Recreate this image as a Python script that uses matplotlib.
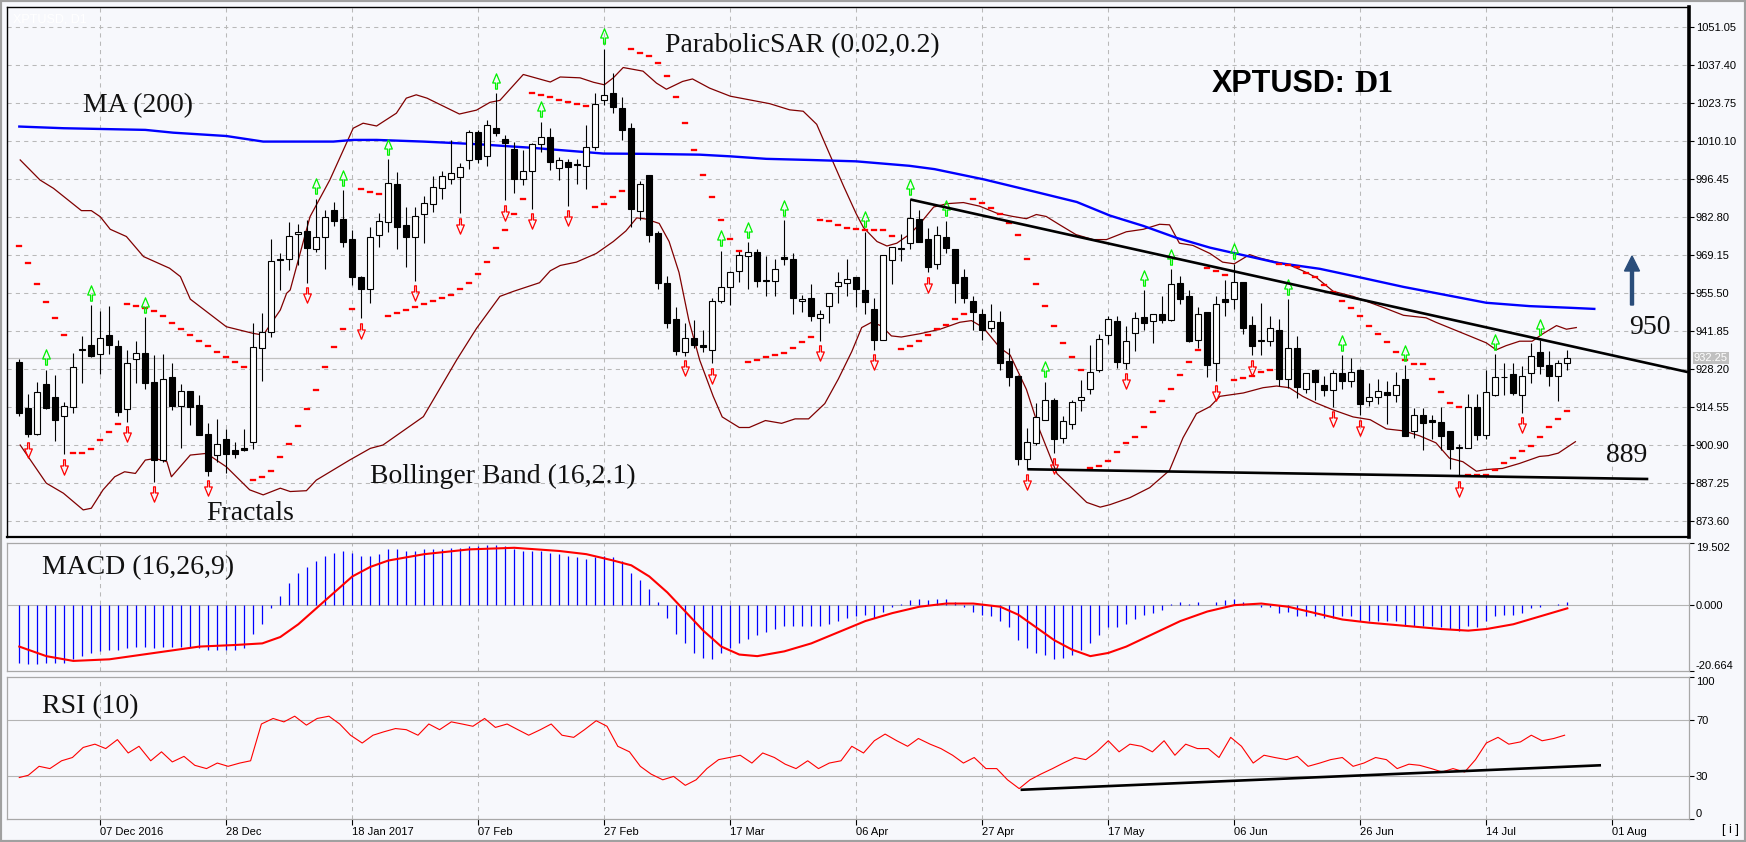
import matplotlib
matplotlib.use("Agg")
import matplotlib.pyplot as plt
import numpy as np
from matplotlib.path import Path
from matplotlib.transforms import ScaledTranslation
import matplotlib.patches as mpatches

plt.rcParams['font.family'] = ['Liberation Sans', 'DejaVu Sans']

# ---------------- data ----------------
opens = [930.7, 914.3, 905.0, 922.8, 918.3, 911.3, 914.8, 935.5, 936.8, 933.6,
940.4, 936.6, 913.8, 931.9, 934.0, 923.5, 895.6, 925.3, 914.9, 920.3,
915.3, 904.8, 897.4, 903.1, 899.1, 899.8, 902.0, 935.7, 941.7, 967.8,
967.8, 976.7, 978.0, 971.4, 975.6, 985.3, 982.2, 975.0, 961.5, 956.9,
976.3, 981.0, 994.6, 979.9, 975.6, 983.9, 987.6, 993.2, 996.4, 997.2,
1003.3, 1013.3, 1004.8, 1014.9, 1011.0, 1007.5, 996.6, 999.5, 1009.2, 1011.7,
1000.6, 1002.6, 1001.8, 1001.3, 1008.1, 1024.8, 1027.6, 1022.2, 1014.7, 984.9,
997.9, 977.0, 959.3, 946.1, 934.3, 939.5, 936.8, 935.2, 952.9, 957.7,
963.6, 969.0, 970.4, 960.1, 959.9, 968.5, 968.0, 952.9, 953.7, 946.6,
951.0, 958.0, 959.3, 961.3, 956.6, 949.8, 938.9, 967.6, 971.5, 973.4,
982.1, 974.9, 966.0, 975.9, 971.4, 961.3, 952.9, 947.9, 942.9, 945.1,
931.1, 925.9, 896.0, 901.8, 909.9, 917.3, 903.4, 908.6, 917.0, 921.0,
928.0, 940.4, 945.7, 930.3, 941.4, 946.9, 945.7, 948.2, 945.9, 959.3,
954.7, 938.9, 948.7, 930.3, 953.6, 953.4, 959.7, 944.2, 938.3, 938.5,
942.5, 924.9, 935.8, 921.2, 927.8, 922.5, 920.6, 926.8, 924.1, 928.0,
916.7, 918.1, 920.0, 919.1, 924.7, 905.9, 911.7, 910.0, 909.2, 906.1,
900.1, 900.0, 914.8, 904.6, 918.8, 925.3, 926.5, 918.8, 926.9, 934.3,
929.6, 925.9, 930.3]
highs = [931.8, 919.3, 923.5, 928.0, 926.2, 916.5, 934.2, 940.2, 951.3, 949.2,
951.0, 938.6, 935.1, 938.3, 946.9, 933.3, 933.7, 930.4, 922.9, 920.3,
919.0, 908.8, 910.2, 906.8, 902.2, 906.8, 945.0, 948.3, 975.0, 969.9,
981.2, 980.4, 981.8, 989.4, 985.4, 988.4, 992.6, 978.3, 961.8, 979.2,
984.5, 1003.6, 999.2, 986.4, 986.6, 990.6, 997.8, 999.4, 1010.6, 1002.4,
1014.2, 1014.2, 1017.8, 1027.3, 1012.5, 1009.8, 1007.1, 1009.4, 1017.2, 1014.9,
1004.4, 1003.6, 1003.6, 1016.0, 1027.3, 1043.4, 1034.5, 1026.1, 1016.6, 995.8,
997.9, 977.8, 961.8, 950.7, 944.7, 945.9, 942.2, 953.7, 970.7, 963.6,
970.7, 973.9, 971.4, 968.9, 968.0, 981.8, 969.8, 955.0, 958.9, 949.4,
955.6, 963.0, 967.7, 961.3, 977.6, 953.7, 969.4, 972.1, 976.9, 989.2,
985.3, 979.1, 979.5, 981.5, 971.4, 964.2, 954.6, 949.7, 951.5, 949.1,
935.8, 926.2, 907.0, 916.1, 923.7, 917.9, 911.3, 917.3, 924.3, 937.0,
941.0, 947.2, 947.2, 943.6, 948.8, 956.6, 948.2, 954.4, 964.2, 961.8,
956.8, 950.7, 948.7, 954.6, 960.3, 966.1, 959.7, 947.5, 951.9, 947.2,
946.3, 953.4, 940.1, 926.8, 928.4, 925.9, 928.0, 933.3, 932.4, 928.4,
923.4, 924.9, 924.1, 927.4, 929.6, 914.4, 914.4, 911.7, 914.5, 906.1,
901.2, 919.4, 919.4, 927.8, 933.6, 930.3, 930.3, 929.4, 937.7, 938.9,
934.9, 931.5, 935.2]
lows = [911.6, 903.8, 904.6, 914.0, 902.6, 897.7, 912.6, 923.4, 932.8, 926.5,
933.7, 911.6, 909.4, 923.2, 921.0, 887.8, 895.0, 913.6, 899.8, 908.2,
904.5, 889.9, 895.0, 890.8, 896.2, 899.0, 899.5, 924.1, 939.9, 956.7,
963.9, 965.7, 959.3, 970.2, 964.1, 979.5, 972.3, 958.5, 946.5, 951.9,
972.3, 977.6, 971.3, 965.1, 960.1, 973.4, 984.6, 989.4, 994.6, 984.2,
1000.0, 1002.2, 1001.4, 1011.9, 989.0, 991.4, 994.3, 985.9, 1006.3, 999.7,
996.2, 986.9, 994.6, 993.0, 1006.9, 1023.0, 1020.1, 1010.6, 979.3, 981.9,
973.8, 957.1, 943.2, 933.3, 933.0, 935.8, 934.3, 930.3, 952.1, 951.3,
959.5, 957.1, 957.8, 954.6, 954.4, 965.7, 948.2, 948.8, 945.7, 938.5,
944.8, 952.1, 954.4, 950.7, 947.9, 935.2, 938.9, 958.9, 967.1, 971.3,
973.9, 963.0, 964.2, 969.8, 951.9, 951.9, 942.3, 938.9, 941.6, 928.0,
922.2, 893.8, 892.3, 900.9, 909.9, 898.1, 901.8, 906.8, 913.3, 919.5,
927.2, 937.3, 928.6, 928.4, 934.8, 942.2, 937.6, 944.8, 945.7, 951.6,
937.9, 935.8, 925.3, 924.1, 947.2, 950.0, 941.0, 933.3, 933.3, 936.7,
922.2, 921.6, 917.9, 919.7, 917.3, 918.5, 914.8, 921.0, 922.0, 911.7,
915.1, 915.8, 908.6, 916.3, 904.3, 903.7, 899.3, 903.3, 899.3, 892.5,
889.8, 900.0, 902.7, 903.1, 918.5, 919.1, 918.8, 912.6, 923.2, 926.5,
922.2, 916.7, 928.1]
closes = [912.6, 905.0, 919.9, 914.4, 910.1, 914.9, 928.9, 935.0, 933.0, 939.3,
937.1, 913.0, 930.4, 934.0, 923.4, 895.6, 924.6, 915.1, 920.3, 914.8,
904.5, 891.8, 901.5, 897.8, 897.9, 899.3, 936.1, 941.7, 967.1, 967.5,
976.1, 977.4, 971.7, 975.9, 982.8, 981.6, 973.8, 961.2, 956.9, 975.9,
981.4, 995.0, 979.4, 975.9, 983.4, 987.8, 993.6, 997.8, 998.8, 1001.0,
1013.3, 1003.9, 1015.8, 1013.1, 1009.4, 996.4, 999.5, 1009.0, 1011.5, 1002.8,
1003.4, 1001.0, 1001.5, 1008.1, 1023.6, 1026.9, 1022.4, 1014.1, 985.9, 994.9,
976.3, 959.3, 944.8, 934.6, 939.3, 936.8, 936.2, 952.9, 957.7, 963.3,
969.2, 970.4, 959.9, 959.9, 964.4, 967.7, 953.7, 953.6, 947.2, 947.9,
955.6, 959.7, 960.5, 957.1, 952.5, 938.9, 969.2, 972.1, 971.8, 982.4,
973.9, 964.8, 976.3, 971.9, 959.1, 953.7, 948.8, 942.3, 945.7, 930.3,
925.5, 896.0, 902.2, 911.1, 917.3, 903.1, 909.6, 916.3, 918.3, 927.4,
939.2, 946.1, 930.9, 938.5, 946.7, 945.0, 948.2, 946.0, 958.9, 953.5,
938.3, 948.2, 929.9, 951.8, 952.4, 959.7, 943.2, 936.7, 938.9, 943.2,
924.7, 936.0, 922.0, 926.8, 923.5, 920.6, 926.8, 924.1, 927.4, 915.8,
918.1, 920.4, 919.1, 922.5, 904.3, 911.7, 908.9, 909.2, 904.3, 899.6,
900.4, 914.8, 904.6, 920.0, 925.3, 925.4, 919.7, 925.9, 933.1, 929.4,
925.9, 930.3, 932.25]

sar = [972.4, 966.3, 958.7, 952.3, 946.5, 940.5, 898.0, 898.0, 899.5, 902.8,
905.6, 908.6, 951.7, 951.0, 950.1, 949.0, 947.4, 944.7, 942.6, 940.5,
938.4, 936.6, 934.3, 932.7, 930.8, 928.9, 888.4, 889.4, 891.6, 896.6,
901.3, 907.9, 913.9, 920.8, 928.9, 936.1, 942.6, 949.8, 992.9, 991.8,
991.1, 947.4, 948.3, 949.5, 950.5, 951.5, 952.7, 953.7, 954.9, 956.9,
959.1, 962.3, 966.6, 971.7, 978.4, 984.1, 989.5, 1027.6, 1026.9, 1026.1,
1025.1, 1024.3, 1023.6, 1022.8, 986.5, 987.7, 990.0, 992.1, 1043.4, 1041.9,
1040.9, 1038.1, 1033.5, 1026.1, 1016.8, 1006.9, 997.9, 990.2, 982.0, 975.0,
970.8, 930.9, 931.5, 932.6, 933.3, 934.0, 935.8, 937.9, 939.8, 982.0,
981.3, 980.0, 979.1, 978.7, 978.1, 978.1, 978.1, 976.2, 935.6, 936.4,
938.5, 940.4, 942.6, 944.2, 946.1, 947.9, 989.2, 988.1, 986.3, 984.0,
980.9, 976.3, 968.0, 959.0, 951.1, 943.9, 937.8, 932.5, 927.8, 892.8,
893.4, 895.4, 898.4, 901.6, 903.9, 907.6, 912.7, 916.9, 921.0, 926.3,
930.9, 935.0, 964.5, 963.6, 962.2, 924.4, 925.1, 925.9, 927.2, 927.8,
966.1, 965.7, 964.9, 962.8, 961.2, 958.6, 956.1, 952.9, 950.1, 947.2,
943.6, 940.8, 937.9, 934.3, 931.5, 930.0, 930.0, 924.7, 920.0, 916.1,
914.8, 890.3, 890.3, 890.3, 891.9, 894.4, 896.5, 898.7, 900.8, 903.9,
907.4, 910.5, 913.3]

fractal_up = [3, 8, 14, 33, 36, 41, 53, 58, 65, 78, 81, 85, 94, 99, 103, 114,
              125, 128, 135, 141, 147, 154, 164, 169]
fractal_dn = [1, 5, 12, 15, 21, 32, 38, 44, 49, 54, 57, 61, 74, 77, 89, 95, 101,
              112, 115, 123, 133, 137, 146, 149, 160, 167]

ma_x = [0, 4.9, 14, 17.1, 23, 27.1, 34.9, 37.1, 39.7, 44.9, 47.5, 51.2, 56.8, 64.9,
        69.3, 75.6, 79, 83, 87.8, 93, 98.9, 101.7, 107.2, 112.7, 117.5, 121.2, 124.9,
        128.6, 132.3, 136, 139.7, 144.5, 149, 153.8, 159.3, 163, 167.8, 172.3, 175]
ma_v = [1015.4, 1014.8, 1014.2, 1013.2, 1012.0, 1010.0, 1010.0, 1010.6, 1010.6, 1010.0,
        1009.6, 1009.0, 1007.8, 1005.7, 1005.6, 1005.3, 1004.7, 1003.8, 1003.4, 1002.9,
        1001.3, 1000.1, 996.4, 992.1, 988.3, 983.4, 979.7, 975.4, 971.9, 969.2, 966.5,
        964.3, 961.2, 957.8, 954.4, 952.1, 950.9, 950.3, 949.9]

bb_up_x = [0.1, 2.3, 3.8, 6.9, 8.0, 9.0, 10.1, 11.9, 13.8, 16.7, 17.9, 19.0, 23.0, 26.0,
           27.1, 29.0, 29.7, 30.1, 32.3, 34.5, 37.1, 38.2, 39.7, 41.9, 43.0, 44.1, 45.3,
           48.9, 50.8, 52.3, 53.4, 56.0, 59.0, 60.1, 62.3, 63.8, 65.0, 66.0, 67.1, 69.3,
           70.8, 71.9, 73.7, 74.8, 76.7, 79.0, 80.8, 83.4, 85.6, 87.1, 88.6, 90.1, 91.6,
           93.0, 93.8, 95.3, 96.4, 97.5, 99.0, 100.1, 101.6, 103.1, 104.9, 106.7, 108.6,
           110.4, 111.9, 113.0, 114.1, 115.6, 117.4, 119.3, 120.8, 123.0, 124.9, 126.7,
           127.8, 128.9, 130.4, 132.3, 133.7, 135.0, 136.7, 137.8, 139.7, 141.1, 142.6,
           144.1, 146.0, 148.2, 151.9, 153.8, 156.3, 157.4, 159.3, 161.2, 163.0, 164.1,
           165.2, 166.7, 168.1, 169.3, 170.8, 171.9, 173.0]
bb_up_v = [1003.4, 996.2, 993.2, 985.2, 985.2, 983.0, 978.5, 975.9, 968.7, 964.5, 961.5,
           953.4, 943.5, 941.1, 940.5, 949.5, 955.5, 956.7, 983.0, 996.2, 1014.8, 1016.6,
           1015.6, 1020.2, 1025.6, 1026.8, 1025.6, 1019.9, 1021.3, 1024.1, 1024.8, 1034.1,
           1031.4, 1033.2, 1032.9, 1031.3, 1030.4, 1032.9, 1036.6, 1035.3, 1031.0, 1028.8,
           1031.6, 1032.5, 1029.2, 1026.3, 1025.2, 1023.6, 1021.4, 1020.9, 1016.2, 1005.0,
           993.9, 984.0, 979.1, 974.1, 972.5, 973.5, 976.9, 980.6, 986.5, 987.7, 988.1,
           986.8, 984.3, 983.1, 982.3, 983.8, 983.1, 980.1, 976.6, 974.8, 974.8, 977.6,
           978.5, 980.3, 980.1, 973.5, 972.7, 969.8, 966.7, 966.1, 969.4, 968.2, 966.7,
           965.7, 963.6, 961.2, 956.2, 954.4, 950.0, 947.6, 946.7, 945.1, 942.6, 940.1,
           937.7, 935.2, 936.7, 938.3, 938.3, 941.0, 943.9, 942.6, 943.2]
bb_lo_x = [0.1, 3.0, 4.9, 7.1, 8.0, 9.3, 10.6, 11.7, 12.9, 14.0, 15.1, 16.4, 16.9, 19.0,
           20.8, 23.0, 25.6, 27.1, 29.0, 30.1, 31.9, 33.0, 36.7, 39.0, 40.4, 44.9, 48.6,
           50.8, 53.4, 54.9, 57.8, 59.0, 60.1, 61.9, 64.1, 66.0, 67.4, 68.6, 69.6, 71.1,
           72.2, 73.3, 74.4, 75.6, 77.1, 78.1, 80.0, 81.1, 82.9, 84.7, 86.2, 87.7, 89.5,
           91.0, 92.5, 93.6, 94.7, 95.8, 96.9, 98.0, 100.1, 102.3, 104.5, 105.8, 107.1,
           109.0, 110.1, 111.9, 113.4, 115.3, 117.1, 118.6, 120.1, 121.2, 123.4, 125.6,
           127.8, 129.3, 130.8, 132.3, 133.4, 136.0, 138.2, 139.7, 141.1, 142.6, 144.1,
           146.0, 148.2, 150.1, 151.9, 153.8, 155.6, 157.4, 158.9, 160.4, 161.9, 163.0,
           164.8, 166.7, 168.9, 169.9, 171.0, 172.9]
bb_lo_v = [901.0, 887.3, 883.7, 877.7, 878.3, 884.9, 889.6, 891.4, 890.8, 895.6, 896.2,
           895.0, 889.6, 897.4, 898.0, 893.2, 884.9, 883.1, 885.5, 884.3, 884.6, 888.4,
           895.6, 899.8, 901.0, 911.2, 931.6, 942.9, 954.4, 956.2, 959.3, 963.6, 965.5,
           966.7, 969.8, 974.1, 977.9, 982.6, 982.2, 980.6, 974.1, 963.0, 945.7, 931.5,
           918.5, 911.1, 907.3, 907.3, 909.8, 908.8, 910.4, 910.4, 915.9, 924.7, 934.6,
           943.2, 945.1, 943.8, 940.2, 939.8, 941.0, 942.6, 945.1, 945.7, 943.2, 935.8,
           933.3, 921.0, 906.1, 890.7, 885.1, 880.4, 878.7, 879.6, 882.1, 885.7, 891.9,
           903.6, 912.3, 914.8, 918.5, 919.7, 921.6, 922.2, 921.6, 918.5, 916.1, 913.6,
           911.1, 910.1, 906.8, 906.1, 904.3, 901.8, 896.3, 895.0, 891.6, 892.2, 892.6,
           894.4, 896.9, 897.2, 898.1, 902.2]

macd_hist = [-18, -18.5, -18.5, -18, -18, -18, -17, -16, -15, -14.5,
-14, -14, -13.5, -13, -13, -13.5, -13, -13, -13, -13,
-13.5, -14, -14, -14, -14, -13.5, -9, -6, -1, 3,
7, 10, 12, 14, 15.5, 16.5, 17, 16.5, 15.5, 15.5,
16, 17.5, 17.5, 17, 17, 17.5, 17.5, 17.5, 18, 18,
18.5, 18.5, 19, 19, 18.5, 17.5, 17, 17, 17, 16.5,
16, 15.5, 15, 14.5, 15, 15.5, 15, 14, 10, 8,
5, 1, -4, -9, -12, -15, -16.5, -17, -15, -13.5,
-12, -10.5, -9.5, -8.5, -7.5, -6.5, -6.5, -6.5, -6.5, -6.5,
-6, -5, -4, -3.5, -3, -4, -2, -0.5, 0.5, 1.5,
2, 1.5, 2, 2, 1, -0.5, -2, -3, -3.5, -5,
-7, -11, -13.5, -15, -15.5, -17, -16.5, -15.5, -14, -12,
-9.5, -7, -7, -6, -4.5, -3, -2.5, -1.5, 0.5, 1,
0.5, 1, 0, 1, 1.5, 2, 1, 0, -0.5, -0.5,
-2.5, -2, -3.5, -3.5, -3.5, -4, -4, -3.5, -3.5, -5,
-5, -5, -5, -5, -6.5, -6.5, -6.5, -6.5, -7, -7.5,
-8, -6.5, -7, -5, -3.5, -3, -3, -2.5, -1, -0.5,
0, 0.5, 1]
sig_x = [0, 3, 6, 10, 15, 20, 24, 27, 29, 31, 33, 35, 37, 39, 41, 45, 50, 55, 60, 63,
         66, 68, 70, 72, 74, 76, 78, 80, 82, 85, 88, 91, 94, 97, 100, 103, 106, 109,
         111, 113, 115, 117, 119, 121, 123, 126, 129, 132, 135, 138, 141, 144, 147,
         150, 154, 158, 161, 163, 166, 169, 172]
sig_v = [-13, -16, -17.5, -17, -15, -13, -12.5, -12, -10, -6, -1, 4, 9, 12, 14, 16, 17.5,
         18, 17, 16, 14, 12.5, 9, 4, -2, -8, -13, -15.5, -16, -14.5, -12, -8.5, -5, -2.5,
         -0.5, 0.5, 0.5, -0.5, -3, -7, -11, -14, -16, -15, -13, -9, -5, -2, 0, 0.5, -0.5,
         -2.5, -4.5, -5.5, -6.5, -7.5, -8, -7.5, -6, -3.5, -1]

rsi_x = [0, 1, 2.2, 3.4, 4.7, 5.9, 7.1, 8.4, 9.6, 10.9, 12.1, 13.3, 14.6, 15.8, 17, 18.3,
         19.5, 20.8, 22, 23.2, 24.5, 25.7, 26.9, 28.2, 29.4, 30.6, 31.9, 33.1, 34.4, 35.6,
         36.8, 38.1, 39.3, 40.5, 41.8, 43, 44.3, 45.5, 46.7, 48, 49.2, 50.4, 51.7, 52.9,
         54.2, 55.4, 56.6, 57.9, 59.1, 60.3, 61.6, 62.8, 64.1, 65.3, 66.5, 67.8, 69, 70.2,
         71.5, 72.7, 74, 75.2, 76.4, 77.7, 78.9, 80.1, 81.4, 82.6, 83.9, 85.1, 86.3, 87.6,
         88.8, 90, 91.3, 92.5, 93.8, 95, 96.2, 97.5, 98.7, 99.9, 101.2, 102.4, 103.7,
         104.9, 106.1, 107.4, 108.6, 109.8, 111.1, 112.3, 113.5, 114.8, 116, 117.3, 118.5,
         119.7, 121, 122.2, 123.4, 124.7, 125.9, 127.2, 128.4, 129.6, 130.9, 132.1, 133.3,
         134.6, 135.8, 137.1, 138.3, 139.5, 140.8, 142, 143.2, 144.5, 145.7, 147, 148.2,
         149.4, 150.7, 151.9, 153.1, 154.4, 155.6, 156.9, 158.1, 159.3, 160.6, 161.8, 163,
         164.3, 165.5, 166.8, 168, 169.2, 170.5, 171.7]
rsi_v = [29.2, 30.8, 37.1, 35.5, 41.0, 43.3, 50.4, 52.7, 49.6, 55.9, 46.5, 51.2, 41.0, 47.3,
         40.2, 44.1, 37.8, 35.5, 39.4, 37.1, 39.4, 41.0, 66.9, 70.8, 68.4, 72.4, 66.1, 70.8,
         72.4, 66.9, 59.0, 53.5, 59.0, 61.4, 63.7, 62.9, 59.0, 66.9, 62.9, 68.4, 66.9, 65.3,
         70.8, 64.5, 66.9, 62.9, 59.0, 62.9, 66.9, 59.0, 57.5, 62.9, 69.2, 65.3, 51.2, 47.3,
         37.1, 31.6, 27.6, 30.0, 23.7, 27.6, 35.5, 41.8, 43.3, 44.9, 39.4, 46.5, 43.3, 38.6,
         35.5, 41.0, 35.5, 39.4, 41.0, 51.2, 46.5, 55.1, 59.8, 55.1, 51.2, 56.7, 52.7, 49.6,
         44.9, 39.4, 43.3, 35.5, 35.5, 27.6, 21.4, 27.6, 31.6, 35.5, 39.4, 43.3, 41.8, 47.3,
         55.1, 47.3, 52.7, 51.2, 47.3, 55.1, 44.9, 52.7, 49.6, 49.6, 43.3, 57.5, 51.2, 39.4,
         44.9, 43.3, 41.8, 44.1, 37.1, 39.4, 41.8, 43.3, 37.1, 39.4, 43.3, 41.8, 35.5, 38.6,
         37.8, 35.5, 33.1, 35.5, 33.1, 41.8, 53.5, 57.5, 52.7, 54.3, 59.0, 55.1, 56.7, 59.0]

trend_x = [99, 185.4]
trend_v = [989.2, 927.2]
support_x = [112, 181]
support_v = [892.3, 888.8]
rsi_trend_x = [111.4, 175.6]
rsi_trend_v = [20.6, 37.8]

price_ticks = [1051.05, 1037.40, 1023.75, 1010.10, 996.45, 982.80, 969.15, 955.50,
               941.85, 928.20, 914.55, 900.90, 887.25, 873.60]
date_pos = [9, 23, 37, 51, 65, 79, 93, 107, 121, 135, 149, 163, 177]
date_lbls = ['07 Dec 2016', '28 Dec', '18 Jan 2017', '07 Feb', '27 Feb', '17 Mar',
             '06 Apr', '27 Apr', '17 May', '06 Jun', '26 Jun', '14 Jul', '01 Aug']
last_price = 932.25

# ---------------- figure ----------------
W, H, DPI = 1746, 842, 100
BG = '#f7f8fc'
fig = plt.figure(figsize=(W / DPI, H / DPI), dpi=DPI, facecolor=BG)


def axes_px(l, t, r, b):
    a = fig.add_axes([l / W, 1 - b / H, (r - l) / W, (b - t) / H])
    a.set_facecolor(BG)
    return a


L, R = 7, 1689
ax = axes_px(L, 7, R, 537)
axm = axes_px(L, 543, R, 671)
axr = axes_px(L, 677, R, 819)
XL = ((L - 19.3) / 9, (R - 19.3) / 9)

grid_kw = dict(color='#b9b9b9', lw=0.75, ls=(0, (4, 4)), zorder=0.5)
for a in (ax, axm, axr):
    for xv in date_pos:
        a.axvline(xv, **grid_kw)
for yv in price_ticks:
    ax.axhline(yv, **grid_kw)

# current price line
ax.axhline(last_price, color='#c0c0c0', lw=0.9, zorder=0.6)

# Bollinger + MA
ax.plot(bb_up_x, bb_up_v, color='#800000', lw=0.9, zorder=2)
ax.plot(bb_lo_x, bb_lo_v, color='#800000', lw=0.9, zorder=2)
ax.plot(ma_x, ma_v, color='#0000ff', lw=1.7, zorder=3)

# candles
n = min(len(opens), len(highs), len(lows), len(closes))
xs = np.arange(n)
O = np.array(opens[:n]); Hh = np.array(highs[:n]); Lo = np.array(lows[:n]); C = np.array(closes[:n])
ax.vlines(xs, Lo, Hh, color='black', lw=0.8, zorder=4)
up = C >= O
bot = np.minimum(O, C)
hgt = np.maximum(np.abs(C - O), 0.3)
ax.bar(xs[up], hgt[up], bottom=bot[up], width=0.68, facecolor='white', edgecolor='black',
       linewidth=0.8, zorder=5)
ax.bar(xs[~up], hgt[~up], bottom=bot[~up], width=0.68, facecolor='black', edgecolor='black',
       linewidth=0.8, zorder=5)

# Parabolic SAR
rect = Path([(-1, -0.42), (1, -0.42), (1, 0.42), (-1, 0.42), (-1, -0.42)],
            [Path.MOVETO, Path.LINETO, Path.LINETO, Path.LINETO, Path.CLOSEPOLY])
ax.plot(np.arange(len(sar)), sar, ls='none', marker=rect, ms=5.0, mfc='#ff0000',
        mec='#ff0000', mew=0.2, zorder=6)

# Fractals (hollow thin arrow glyphs)
up_v = [(0, 1), (-0.5, -0.2), (-0.12, -0.2), (-0.12, -1), (0.12, -1), (0.12, -0.2),
        (0.5, -0.2), (0, 1)]
up_c = [Path.MOVETO] + [Path.LINETO] * 6 + [Path.CLOSEPOLY]
up_arrow = Path(up_v, up_c)
dn_arrow = Path([(x, -y) for x, y in up_v], up_c)
t_up = ax.transData + ScaledTranslation(0, 12.5 / DPI, fig.dpi_scale_trans)
t_dn = ax.transData + ScaledTranslation(0, -12.5 / DPI, fig.dpi_scale_trans)
ax.plot(fractal_up, Hh[fractal_up], ls='none', marker=up_arrow, ms=11, mfc='none',
        mec='#00f000', mew=0.9, transform=t_up, zorder=6)
ax.plot(fractal_dn, Lo[fractal_dn], ls='none', marker=dn_arrow, ms=11, mfc='none',
        mec='#ff0000', mew=0.9, transform=t_dn, zorder=6)

# trend lines
ax.plot(trend_x, trend_v, color='black', lw=1.9, zorder=7, solid_capstyle='butt')
ax.plot(support_x, support_v, color='black', lw=1.9, zorder=7, solid_capstyle='butt')

# MACD panel
axm.axhline(0, color='#b4b4b4', lw=0.8, zorder=0.6)
axm.vlines(np.arange(len(macd_hist)), 0, macd_hist, color='#0000ff', lw=0.9, zorder=2)
axm.plot(sig_x, sig_v, color='#ff0000', lw=1.5, zorder=3)

# RSI panel
for lv in (70, 30):
    axr.axhline(lv, color='#b4b4b4', lw=0.8, zorder=0.6)
axr.plot(rsi_x, rsi_v, color='#ff0000', lw=0.8, zorder=3)
axr.plot(rsi_trend_x, rsi_trend_v, color='black', lw=1.9, zorder=4)

# limits
for a in (ax, axm, axr):
    a.set_xlim(*XL)
ax.set_ylim(867.97, 1058.34)
axm.set_ylim(-20.664, 19.502)
axr.set_ylim(0, 100)

# spines
for s in ('left', 'top'):
    ax.spines[s].set_color('black'); ax.spines[s].set_linewidth(1.0)
ax.spines['right'].set_color('black'); ax.spines['right'].set_linewidth(2.6)
ax.spines['bottom'].set_color('black'); ax.spines['bottom'].set_linewidth(1.6)
for a in (axm, axr):
    for s in a.spines.values():
        s.set_color('#a8a8a8'); s.set_linewidth(0.9)

# ticks
for a in (ax, axm):
    a.tick_params(axis='x', which='both', bottom=False, labelbottom=False)
for a in (ax, axm, axr):
    a.yaxis.tick_right()
    a.tick_params(axis='y', direction='out', length=3.5, width=0.8, pad=1.5,
                  labelsize=8, colors='black')
ax.set_yticks(price_ticks)
ax.set_yticklabels(['%.2f' % v for v in price_ticks])
axm.set_yticks([19.502, 0.0, -20.664])
axm.set_yticklabels(['19.502', '0.000', '-20.664'])
mlab = axm.get_yticklabels()
mlab[0].set_va('top'); mlab[2].set_va('bottom')
axr.set_yticks([100, 70, 30, 0])
axr.set_yticklabels(['100', '70', '30', '0'])
rlab = axr.get_yticklabels()
rlab[0].set_va('top'); rlab[3].set_va('bottom')
axr.set_xticks(date_pos)
axr.set_xticklabels(date_lbls, ha='left')
axr.tick_params(axis='x', direction='out', length=4, width=0.8, pad=1.5, labelsize=8,
                colors='black')

# current price label
ax.annotate('%.2f' % last_price, xy=(1, last_price), xycoords=('axes fraction', 'data'),
            xytext=(5, 0), textcoords='offset pixels', va='center', ha='left',
            color='white', fontsize=8,
            bbox=dict(boxstyle='square,pad=0.12', fc='#c0c0c0', ec='none'), zorder=10,
            annotation_clip=False)

# annotations (pixel positions)
def ftext(x, y, s, **kw):
    fig.text(x / W, 1 - y / H, s, **kw)

serif = dict(family='Liberation Serif', fontsize=20, color='#111111', va='center', ha='left')
ftext(83, 106, 'MA (200)', **serif)
ftext(665, 46, 'ParabolicSAR (0.02,0.2)', **serif)
ftext(370, 476, 'Bollinger Band (16,2.1)', **serif)
ftext(206, 513, 'Fractals', **serif)
ftext(42, 568, 'MACD (16,26,9)', **serif)
ftext(42, 707, 'RSI (10)', **serif)
ftext(1629, 328, '950', **serif)
ftext(1606, 456, '889', **serif)
ftext(1212, 84, 'XPTUSD:', family='Liberation Sans', fontsize=22, fontweight='bold',
      color='black', va='center', ha='left')
ftext(1354, 84, 'D1', family='Liberation Serif', fontsize=23, fontweight='bold',
      color='black', va='center', ha='left')
ftext(13, 19, 'XPTUSD, D1', fontsize=9, color='white', va='center', ha='left')
ftext(1722, 830, '[ i ]', fontsize=9, color='black', va='center', ha='left')

# arrow up (blue)
fig.add_artist(mpatches.FancyArrow(1632 / W, 1 - 305 / H, 0, (305 - 256) / H,
                                   width=3 / W, head_width=15 / W, head_length=15 / H,
                                   length_includes_head=True, color='#2a4d7a',
                                   transform=fig.transFigure))

# window frame
fig.add_artist(mpatches.Rectangle((0, 0), 1, 1, transform=fig.transFigure, fill=False,
                                  ec='#a0a0a0', lw=3))

fig.savefig('out.png', dpi=DPI, facecolor=BG)
